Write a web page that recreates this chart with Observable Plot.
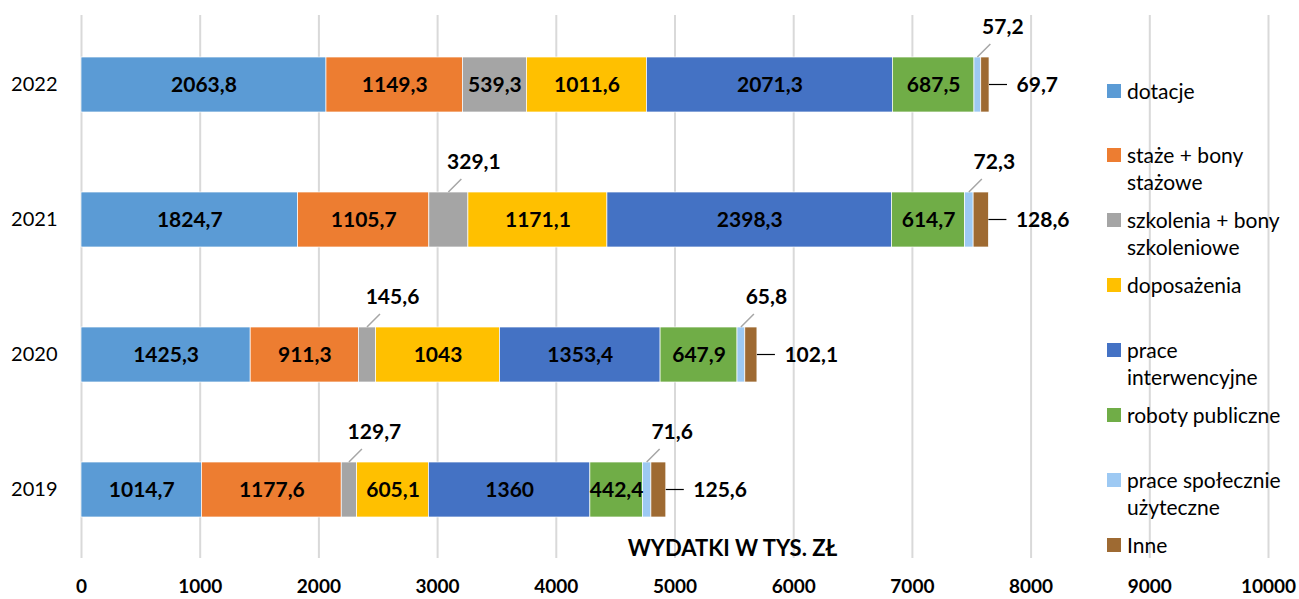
<!DOCTYPE html>
<html>
<head>
<meta charset="utf-8">
<script src="https://cdn.jsdelivr.net/npm/d3@7"></script>
<script src="https://cdn.jsdelivr.net/npm/@observablehq/plot@0.6"></script>
<style>
  html, body { margin: 0; padding: 0; background: #fff; }
  #wrap { position: relative; width: 1299px; height: 599px; font-family: Lato, sans-serif; }
  #legend { position: absolute; left: 1107px; top: 0; }
  .item { position: absolute; left: 0; display: flex; align-items: flex-start; width: 192px; }
  .sw { width: 14px; height: 14px; margin-top: 7px; margin-right: 6px; flex: none; }
  .lbl { font-size: 21px; line-height: 27px; color: #000; width: 170px; }
</style>
</head>
<body>
<div id="wrap"><div id="legend"></div></div>
<script>
const years = ["2022", "2021", "2020", "2019"];
const categories = ["dotacje", "staże + bony stażowe", "szkolenia + bony szkoleniowe", "doposażenia",
  "prace interwencyjne", "roboty publiczne", "prace społecznie użyteczne", "Inne"];
const colors = ["#5b9bd5", "#ed7d31", "#a5a5a5", "#ffc000", "#4472c4", "#70ad47", "#9dc9f3", "#9e6a32"];

const dotacje       = [2063.8, 1824.7, 1425.3, 1014.7];
const staze         = [1149.3, 1105.7, 911.3, 1177.6];
const szkolenia     = [539.3, 329.1, 145.6, 129.7];
const doposazenia   = [1011.6, 1171.1, 1043, 605.1];
const interwencyjne = [2071.3, 2398.3, 1353.4, 1360];
const roboty        = [687.5, 614.7, 647.9, 442.4];
const spoleczne     = [57.2, 72.3, 65.8, 71.6];
const inne          = [69.7, 128.6, 102.1, 125.6];
const xTicks = [0, 1000, 2000, 3000, 4000, 5000, 6000, 7000, 8000, 9000, 10000];
const axisTitle = "WYDATKI W TYS. ZŁ";

const series = [dotacje, staze, szkolenia, doposazenia, interwencyjne, roboty, spoleczne, inne];

const rows = [];
years.forEach((year, yi) => {
  let start = 0;
  series.forEach((s, ci) => {
    const v = s[yi];
    rows.push({year, cat: categories[ci], ci, value: v, x1: start, x2: start + v, mid: start + v / 2});
    start += v;
  });
});
const fmt = v => String(v).replace(".", ",");
const inside = rows.filter(d => d.value > 400);
const above = rows.filter(d => d.value <= 400 && d.ci !== 7);
const right = rows.filter(d => d.ci === 7);

const plot = Plot.plot({
  width: 1299,
  height: 599,
  marginLeft: 81,
  marginRight: 31,
  marginTop: 15,
  marginBottom: 41,
  style: {fontFamily: "Lato, sans-serif", background: "transparent", overflow: "visible"},
  x: {domain: [0, 10000]},
  y: {domain: years, paddingInner: 0.595, paddingOuter: 0.2975},
  color: {domain: categories, range: colors},
  marks: [
    Plot.gridX(xTicks, {stroke: "#d9d9d9", strokeWidth: 2, strokeOpacity: 1}),
    Plot.barX(rows, {x1: "x1", x2: "x2", y: "year", fill: "cat", stroke: "white", strokeWidth: 0.7}),
    Plot.text(inside, {x: "mid", y: "year", text: d => fmt(d.value), fontWeight: "bold", fontSize: 21, fill: "#000"}),
    Plot.text(above, {x: "mid", y: "year", text: d => fmt(d.value), dx: 25, dy: -58, fontWeight: "bold", fontSize: 21, fill: "#000"}),
    Plot.text(right, {x: "x2", y: "year", text: d => fmt(d.value), dx: 27, textAnchor: "start", fontWeight: "bold", fontSize: 21, fill: "#000"}),
    Plot.text([axisTitle], {frameAnchor: "bottom", dx: 732 - 674.5, dy: -10, lineAnchor: "middle", fontWeight: "bold", fontSize: 22, fill: "#000"}),
    Plot.axisX({ticks: xTicks, tickSize: 0, tickPadding: 21, fontSize: 19, fontWeight: "bold", label: null, tickFormat: d => String(d)}),
    Plot.axisY({tickSize: 0, tickPadding: 24, fontSize: 20, label: null})
  ]
});

document.getElementById("wrap").prepend(plot);

// leader lines through the plot's scales
const xs = plot.scale("x"), ys = plot.scale("y");
const bw = ys.bandwidth;
const g = d3.select(plot).append("g");
above.forEach(d => {
  const x0 = xs.apply(d.mid), y0 = ys.apply(d.year);
  g.append("line").attr("x1", x0).attr("y1", y0).attr("x2", x0 + 13).attr("y2", y0 - 13)
    .attr("stroke", "#a6a6a6").attr("stroke-width", 1.5);
});
right.forEach(d => {
  const x0 = xs.apply(d.x2), y0 = ys.apply(d.year) + bw / 2;
  g.append("line").attr("x1", x0).attr("y1", y0).attr("x2", x0 + 18).attr("y2", y0)
    .attr("stroke", "#000").attr("stroke-width", 1.2);
});

// legend
const legend = document.getElementById("legend");
categories.forEach((c, i) => {
  const item = document.createElement("div");
  item.className = "item";
  item.style.top = (90 + i * 64.9 - 13.5) + "px";
  const sw = document.createElement("div");
  sw.className = "sw";
  sw.style.background = colors[i];
  const lbl = document.createElement("div");
  lbl.className = "lbl";
  lbl.textContent = c;
  item.append(sw, lbl);
  legend.append(item);
});
</script>
</body>
</html>
